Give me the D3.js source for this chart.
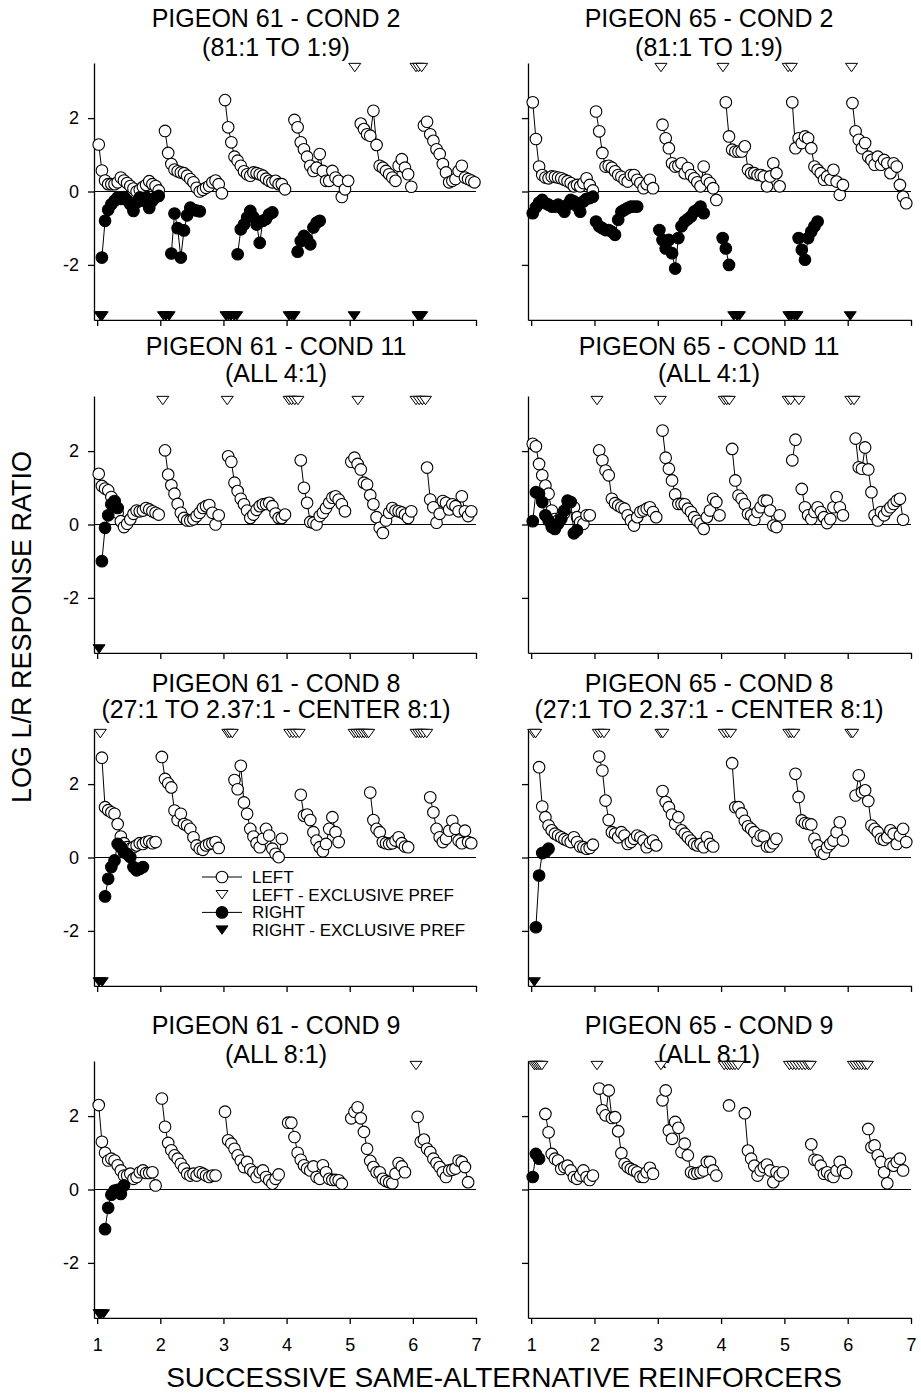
<!DOCTYPE html>
<html>
<head>
<meta charset="utf-8">
<script src="https://cdn.jsdelivr.net/npm/d3@7"></script>
<style>
  body { margin: 0; background: #fff; }
  svg text { font-family: "Liberation Sans", Arial, sans-serif; fill: #000; }
</style>
</head>
<body>
<script>
// tick values
const xTicks = [1, 2, 3, 4, 5, 6, 7];
const yTicks = [-2, 0, 2];

const titles = [
  ["PIGEON 61 - COND 2", "(81:1 TO 1:9)"],
  ["PIGEON 65 - COND 2", "(81:1 TO 1:9)"],
  ["PIGEON 61 - COND 11", "(ALL 4:1)"],
  ["PIGEON 65 - COND 11", "(ALL 4:1)"],
  ["PIGEON 61 - COND 8", "(27:1 TO 2.37:1 - CENTER 8:1)"],
  ["PIGEON 65 - COND 8", "(27:1 TO 2.37:1 - CENTER 8:1)"],
  ["PIGEON 61 - COND 9", "(ALL 8:1)"],
  ["PIGEON 65 - COND 9", "(ALL 8:1)"]
];
const legendLabels = ["LEFT", "LEFT - EXCLUSIVE PREF", "RIGHT", "RIGHT - EXCLUSIVE PREF"];

// log L/R response ratios, one array per successive reinforcer (1..6),
// point i sits at k + 0.025 + 0.05*i ; null = no point
const p61c2Left = [
  [1.28, 0.57, 0.3, 0.2, 0.2, 0.2, 0.25, 0.38, 0.3, 0.23, 0.15, 0.08, 0.0, 0.05, 0.12, 0.18, 0.28, 0.2, 0.15, 0.03],
  [null, 1.65, 1.05, 0.75, 0.6, 0.55, 0.52, 0.5, 0.43, 0.34, 0.25, 0.1, 0.0, 0.05, 0.1, 0.15, 0.25, 0.3, 0.2, -0.05],
  [2.49, 1.75, 1.34, 0.95, 0.84, 0.7, 0.55, 0.47, 0.43, 0.52, 0.5, 0.47, 0.43, 0.35, 0.29, 0.25, 0.29, 0.2, 0.2, 0.06],
  [null, null, 1.95, 1.75, 1.34, 1.15, 0.95, 0.7, 0.56, 0.65, 1.02, 0.56, 0.29, 0.29, 0.56, 0.38, 0.29, -0.15, 0.06, 0.29],
  [null, null, null, 1.85, 1.7, 1.56, 1.52, 2.2, 1.27, 0.7, 0.65, 0.56, 0.47, 0.38, 0.29, 0.7, 0.88, 0.65, 0.47, 0.13],
  [null, null, null, 1.8, 1.9, 1.56, 1.38, 1.15, 1.02, 0.75, 0.52, 0.25, 0.29, 0.34, 0.56, 0.7, 0.38, 0.34, 0.3, 0.25]
];
const p61c2Right = [
  [null, -1.8, -0.8, -0.5, -0.35, -0.25, -0.16, -0.2, -0.15, -0.24, -0.35, -0.53, -0.3, -0.16, -0.25, -0.16, -0.45, -0.25, -0.16, -0.12],
  [null, null, null, -1.69, -0.6, -1.0, -1.8, -1.06, -0.65, -0.44, -0.5, -0.52, -0.54],
  [null, null, null, null, -1.71, -1.03, -0.9, -0.71, -0.53, -0.7, -0.9, -1.4, -0.8, -0.75, -0.62, -0.57],
  [null, null, null, -1.64, -1.35, -1.21, -1.3, -1.44, -0.98, -0.85, -0.8],
  [], []
];
const p61c2LeftExcl = [5.08, 6.05, 6.09, 6.14];
const p61c2RightExcl = [1.05, 1.08, 2.05, 2.09, 2.14, 3.04, 3.08, 3.12, 3.17, 3.21, 4.04, 4.08, 4.12, 5.07, 6.08, 6.11, 6.14];

const p65c2Left = [
  [2.43, 1.43, 0.68, 0.45, 0.38, 0.36, 0.41, 0.4, 0.38, 0.36, 0.32, 0.28, 0.23, 0.14, 0.18, 0.14, 0.23, 0.36, 0.18, 0.03],
  [2.18, 1.64, 1.05, 0.68, 0.7, 0.65, 0.55, 0.45, 0.4, 0.32, 0.27, 0.45, 0.45, 0.32, 0.23, 0.09, 0.2, 0.32, 0.09],
  [null, 1.82, 1.45, 1.18, 0.77, 0.68, 0.7, 0.77, 0.5, 0.64, 0.45, 0.36, 0.25, 0.14, 0.68, 0.32, 0.23, 0.09, -0.23],
  [null, 2.43, 1.5, 1.14, 1.09, 1.09, 1.09, 1.23, 0.59, 0.5, 0.5, 0.45, 0.45, 0.41, 0.14, 0.41, 0.77, 0.5, 0.14],
  [null, null, 2.43, 1.18, 1.45, 1.32, 1.5, 1.45, 1.18, 0.68, 0.59, 0.5, 0.32, 0.41, 0.32, 0.59, 0.27, -0.09, 0.18],
  [null, 2.41, 1.64, 1.41, 1.18, 1.32, 0.95, 0.86, 0.73, 0.95, 0.73, 0.86, 0.77, 0.5, 0.77, 0.68, 0.18, -0.14, -0.32]
];
const p65c2Right = [
  [-0.59, -0.43, -0.3, -0.23, -0.32, -0.36, -0.41, -0.41, -0.36, -0.45, -0.55, -0.36, -0.23, -0.27, -0.4, -0.55, -0.27, -0.2, -0.18, -0.14],
  [-0.82, -0.95, -1.0, -1.05, -1.05, -1.1, -1.18, -0.77, -0.55, -0.5, -0.45, -0.41, -0.41, -0.41],
  [-1.05, -1.32, -1.55, -1.32, -1.68, -2.1, -1.27, -0.95, -0.82, -0.75, -0.68, -0.55, -0.5, -0.41, -0.59],
  [-1.27, -1.55, -2.0],
  [null, null, null, null, -1.27, -1.59, -1.86, -1.27, -1.09, -0.95, -0.82],
  []
];
const p65c2LeftExcl = [3.05, 4.03, 5.06, 5.11, 6.06];
const p65c2RightExcl = [4.2, 4.25, 4.29, 5.07, 5.11, 5.16, 5.2, 6.04];

const p61c11Left = [
  [1.38, 1.05, 0.98, 0.93, 0.75, 0.64, 0.32, 0.09, -0.07, 0.02, 0.14, 0.29, 0.38, 0.36, 0.38, 0.45, 0.41, 0.36, 0.32, 0.27],
  [null, 2.02, 1.36, 1.07, 0.84, 0.56, 0.32, 0.18, 0.11, 0.11, 0.14, 0.23, 0.32, 0.45, 0.5, 0.53, 0.32, 0.0, 0.25],
  [null, 1.86, 1.71, 1.14, 0.91, 0.7, 0.55, 0.38, 0.18, 0.27, 0.4, 0.5, 0.55, 0.56, 0.59, 0.5, 0.3, 0.18, 0.18, 0.27],
  [null, null, null, null, 1.75, 1.0, 0.59, 0.07, 0.05, 0.0, 0.23, 0.32, 0.45, 0.59, 0.73, 0.77, 0.68, 0.55, 0.36],
  [1.71, 1.82, 1.65, 1.5, 1.14, 1.09, 0.8, 0.55, 0.2, -0.09, -0.23, 0.11, 0.32, 0.45, 0.38, 0.36, 0.33, 0.27, 0.18, 0.36],
  [null, null, null, null, 1.55, 0.68, 0.47, 0.05, 0.29, 0.64, 0.59, 0.41, 0.55, 0.5, 0.36, 0.77, 0.36, 0.23, 0.36]
];
const p61c11Right = [[null, -1.0, -0.09, 0.25, 0.55, 0.62, 0.45], [], [], [], [], []];
const p61c11LeftExcl = [2.04, 3.06, 4.04, 4.08, 4.13, 4.18, 5.13, 6.05, 6.1, 6.15, 6.2];
const p61c11RightExcl = [1.03];

const p65c11Left = [
  [2.2, 2.13, 1.65, 1.34, 1.06, 0.84, 0.38, 0.15, 0.11, 0.2, 0.31, 0.47, 0.56, 0.47, 0.2, 0.06, 0.02, 0.25, 0.25],
  [null, 2.02, 1.75, 1.47, 1.34, 0.7, 0.58, 0.52, 0.47, 0.43, 0.25, 0.11, -0.03, 0.2, 0.34, 0.38, 0.43, 0.47, 0.34, 0.2],
  [null, 2.56, 1.82, 1.52, 1.2, 0.82, 0.56, 0.56, 0.55, 0.43, 0.34, 0.2, 0.1, 0.02, -0.12, 0.2, 0.38, 0.7, 0.61, 0.25],
  [null, null, null, 2.06, 1.2, 0.79, 0.7, 0.55, 0.29, 0.25, 0.13, 0.34, 0.47, 0.65, 0.65, 0.38, -0.03, -0.07, 0.25],
  [null, null, 1.75, 2.31, null, 0.97, 0.47, 0.25, 0.15, 0.34, 0.47, 0.34, 0.2, 0.04, 0.15, 0.47, 0.75, 0.47, 0.25],
  [null, null, 2.34, 1.56, 1.52, 2.1, 1.5, 0.88, 0.25, 0.11, 0.34, 0.25, 0.38, 0.47, 0.56, 0.65, 0.7, 0.13]
];
const p65c11Right = [[0.09, 0.88, 0.84, 0.61, 0.25, 0.11, -0.07, -0.12, 0.02, 0.15, 0.38, 0.65, 0.61, -0.24, -0.16], [], [], [], [], []];
const p65c11LeftExcl = [2.04, 3.04, 4.05, 4.09, 4.13, 5.06, 5.1, 5.23, 6.05, 6.1];
const p65c11RightExcl = [];

const p61c8Left = [
  [null, 2.72, 1.37, 1.29, 1.23, 1.19, 0.91, 0.57, 0.39, 0.28, 0.24, 0.28, 0.33, 0.39, 0.37, 0.42, 0.44, 0.39, 0.42],
  [2.74, 2.14, 2.02, 1.91, 1.28, 1.02, 1.19, 0.91, 0.87, 0.78, 0.55, 0.33, 0.24, 0.21, 0.33, 0.37, 0.39, 0.42, 0.26],
  [null, null, null, 2.11, 1.86, 2.5, 1.5, 1.19, 0.78, 0.57, 0.39, 0.28, 0.51, 0.78, 0.6, 0.24, 0.1, 0.01, 0.51],
  [null, null, null, null, 1.71, 1.14, 1.17, 1.02, 0.69, 0.46, 0.28, 0.17, 0.37, 0.78, 1.1, 0.69, 0.42],
  [null, null, null, null, null, null, 1.77, 1.02, 0.78, 0.69, 0.42, 0.39, 0.37, 0.39, 0.46, 0.55, 0.39, 0.3, 0.28],
  [null, null, null, null, null, 1.64, 1.23, 0.78, 0.55, 0.42, 0.51, 0.73, 1.0, 0.78, 0.46, 0.39, 0.73, 0.42, 0.39]
];
const p61c8Right = [[null, null, -1.06, -0.58, -0.26, -0.08, 0.37, 0.28, 0.14, 0.1, 0.01, -0.26, -0.35, -0.31, -0.26], [], [], [], [], []];
const p61c8LeftExcl = [1.05, 3.07, 3.1, 3.14, 4.05, 4.1, 4.15, 4.2, 5.07, 5.11, 5.15, 5.19, 5.23, 5.27, 5.3, 6.05, 6.09, 6.13, 6.17, 6.22];
const p61c8RightExcl = [1.03, 1.08];

const p65c8Left = [
  [null, null, 2.46, 1.39, 1.1, 0.87, 0.74, 0.65, 0.6, 0.55, 0.5, 0.46, 0.42, 0.55, 0.42, 0.3, 0.28, 0.24, 0.26, 0.35],
  [null, 2.75, 2.37, 1.55, 1.02, 0.69, 0.65, 0.55, 0.69, 0.6, 0.37, 0.42, 0.51, 0.6, 0.55, 0.46, 0.28, 0.4, 0.46, 0.33],
  [null, 1.81, 1.51, 1.37, 1.17, 0.92, 1.1, 0.74, 0.65, 0.55, 0.46, 0.37, 0.33, 0.37, 0.28, 0.55, 0.37, 0.3],
  [null, null, null, 2.57, 1.37, 1.37, 1.2, 1.0, 0.85, 0.78, 0.69, 0.46, 0.6, 0.57, 0.3, 0.3, 0.39, 0.51],
  [null, null, null, 2.28, 1.65, 1.01, 0.94, 0.92, 0.9, 0.51, 0.33, 0.15, 0.1, 0.28, 0.37, 0.46, 0.69, 0.96, 0.46],
  [null, null, 1.69, 2.24, 1.78, 1.83, 1.54, 0.87, 0.78, 0.69, 0.51, 0.48, 0.55, 0.74, 0.65, 0.37, 0.6, 0.78, 0.42]
];
const p65c8Right = [[null, -1.9, -0.49, 0.12, 0.15, 0.24], [], [], [], [], []];
const p65c8LeftExcl = [1.04, 1.07, 2.06, 2.1, 2.15, 3.05, 3.08, 4.05, 4.1, 4.15, 5.07, 5.11, 5.15, 6.05, 6.08];
const p65c8RightExcl = [1.05];

const p61c9Left = [
  [2.3, 1.3, 1.0, 0.79, 0.84, 0.79, 0.66, 0.52, 0.38, 0.38, 0.43, 0.29, 0.34, 0.47, 0.52, 0.45, 0.45, 0.47, 0.11],
  [2.48, 1.71, 1.27, 1.07, 0.93, 0.84, 0.7, 0.57, 0.43, 0.38, 0.43, 0.38, 0.47, 0.43, 0.38, 0.34, 0.38, 0.38],
  [2.12, 1.34, 1.25, 1.11, 0.93, 0.79, 0.61, 0.75, 0.55, 0.47, 0.34, 0.47, 0.52, 0.34, 0.25, 0.16, 0.29, 0.41],
  [1.82, 1.82, 1.43, 1.0, 0.81, 0.66, 0.57, 0.52, 0.63, 0.34, 0.29, 0.66, 0.47, 0.29, 0.26, 0.26, 0.25, 0.16],
  [1.94, 2.12, 2.24, 1.94, 1.57, 1.11, 0.78, 0.61, 0.47, 0.47, 0.29, 0.23, 0.2, 0.17, 0.43, 0.72, 0.63, 0.47],
  [null, 1.98, 1.3, 1.36, 1.11, 1.02, 0.84, 0.72, 0.61, 0.47, 0.34, 0.52, 0.54, 0.57, 0.79, 0.75, 0.61, 0.2]
];
const p61c9Right = [[null, null, -1.08, -0.5, -0.14, -0.03, -0.01, -0.12, 0.11], [], [], [], [], []];
const p61c9LeftExcl = [6.05];
const p61c9RightExcl = [1.03, 1.06, 1.1];

const p65c9Left = [
  [null, null, null, null, 2.06, 1.56, 0.97, 0.84, 0.79, 0.56, 0.61, 0.65, 0.52, 0.34, 0.29, 0.38, 0.52, 0.34, 0.26, 0.38],
  [null, 2.75, 2.16, 2.02, 2.7, 1.95, 1.97, 1.59, 0.99, 0.7, 0.61, 0.56, 0.52, 0.47, 0.35, 0.34, 0.47, 0.59, 0.43],
  [null, 2.43, 2.7, 1.61, 1.38, 1.84, 1.68, 1.02, 1.25, 0.93, 0.47, 0.43, 0.45, 0.47, 0.52, 0.75, 0.75, 0.52, 0.38],
  [null, null, 2.29, null, null, null, null, 2.08, 1.06, 0.84, 0.65, 0.38, 0.52, 0.61, 0.68, 0.52, 0.2, 0.47, 0.38, 0.47],
  [null, null, null, null, null, null, null, null, 1.23, 0.81, 0.79, 0.65, 0.43, 0.47, 0.38, 0.34, 0.52, 0.75, 0.52, 0.45],
  [null, null, null, null, null, null, 1.65, 1.15, 1.2, 0.93, 0.75, 0.47, 0.17, 0.7, 0.65, 0.75, 0.84, 0.52]
];
const p65c9Right = [[0.34, 0.97, 0.84], [], [], [], [], []];
const p65c9LeftExcl = [1.05, 1.08, 1.11, 1.14, 1.17, 2.04, 3.05, 4.05, 4.1, 4.14, 4.18, 4.22, 4.27,
  5.08, 5.13, 5.18, 5.23, 5.28, 5.33, 5.38, 5.41, 6.09, 6.13, 6.18, 6.22, 6.27, 6.31];
const p65c9RightExcl = [];

const panels = [
  { left: p61c2Left, right: p61c2Right, lx: p61c2LeftExcl, rx: p61c2RightExcl },
  { left: p65c2Left, right: p65c2Right, lx: p65c2LeftExcl, rx: p65c2RightExcl },
  { left: p61c11Left, right: p61c11Right, lx: p61c11LeftExcl, rx: p61c11RightExcl },
  { left: p65c11Left, right: p65c11Right, lx: p65c11LeftExcl, rx: p65c11RightExcl },
  { left: p61c8Left, right: p61c8Right, lx: p61c8LeftExcl, rx: p61c8RightExcl },
  { left: p65c8Left, right: p65c8Right, lx: p65c8LeftExcl, rx: p65c8RightExcl },
  { left: p61c9Left, right: p61c9Right, lx: p61c9LeftExcl, rx: p61c9RightExcl },
  { left: p65c9Left, right: p65c9Right, lx: p65c9LeftExcl, rx: p65c9RightExcl }
];

// layout
const colRange = [[94, 476], [528, 911]];
const rowZero = [191.5, 524.5, 857.5, 1189.5];
const unit = 36.7;
const titleBase = [[27, 56], [355, 382], [692, 718], [1034, 1063]];
const titleX = [276, 709];
const tri = "M-6,-4.2L6,-4.2L0,4.2Z";

const svg = d3.select("body").append("svg")
  .attr("width", 921)
  .attr("height", 1393);

function toPoints(arr, k) {
  return arr.map((v, i) => ({ x: k + 0.025 + 0.05 * i, v: v }));
}

panels.forEach(function (p, n) {
  const row = Math.floor(n / 2), col = n % 2;
  const x = d3.scaleLinear().domain([0.95, 7]).range(colRange[col]);
  const y = d3.scaleLinear().domain([-3.5, 3.5])
    .range([rowZero[row] + 3.5 * unit, rowZero[row] - 3.5 * unit]);
  const g = svg.append("g");

  // titles
  titles[n].forEach(function (t, j) {
    g.append("text")
      .attr("x", titleX[col])
      .attr("y", titleBase[row][j])
      .attr("text-anchor", "middle")
      .attr("font-size", 25)
      .text(t);
  });

  // axes
  const ya = g.append("g")
    .attr("transform", "translate(" + x(0.95) + ",0)")
    .call(d3.axisLeft(y).tickValues(yTicks).tickSize(6).tickSizeOuter(0).tickPadding(9)
      .tickFormat(col === 0 ? (d => String(d)) : (() => "")));
  const xa = g.append("g")
    .attr("transform", "translate(0," + y(-3.5) + ")")
    .call(d3.axisBottom(x).tickValues(xTicks).tickSize(6).tickSizeOuter(0).tickPadding(14)
      .tickFormat(row === 3 ? (d => String(d)) : (() => "")));
  [ya, xa].forEach(a => {
    a.attr("font-size", 18).attr("font-family", "Liberation Sans, Arial, sans-serif");
    a.selectAll("path, line").attr("stroke", "#000").attr("stroke-width", 1.3);
  });

  // zero line
  g.append("line")
    .attr("x1", x(0.95)).attr("x2", x(7))
    .attr("y1", y(0)).attr("y2", y(0))
    .attr("stroke", "#000").attr("stroke-width", 1);

  const line = d3.line()
    .defined(d => d.v != null)
    .x(d => x(d.x))
    .y(d => y(d.v));

  function drawSeries(groups, fill) {
    groups.forEach(function (arr, gi) {
      const pts = toPoints(arr, gi + 1);
      g.append("path")
        .datum(pts)
        .attr("d", line)
        .attr("fill", "none")
        .attr("stroke", "#000")
        .attr("stroke-width", 1);
      g.selectAll(null)
        .data(pts.filter(d => d.v != null))
        .enter().append("circle")
        .attr("cx", d => x(d.x))
        .attr("cy", d => y(d.v))
        .attr("r", 5.8)
        .attr("fill", fill)
        .attr("stroke", "#000")
        .attr("stroke-width", 1.1);
    });
  }
  drawSeries(p.left, "#fff");
  drawSeries(p.right, "#000");

  // exclusive preference markers
  g.selectAll(null)
    .data(p.lx)
    .enter().append("path")
    .attr("d", tri)
    .attr("transform", d => "translate(" + x(d) + "," + (y(3.5) + 4.5) + ")")
    .attr("fill", "#fff")
    .attr("stroke", "#000")
    .attr("stroke-width", 1);
  g.selectAll(null)
    .data(p.rx)
    .enter().append("path")
    .attr("d", tri)
    .attr("transform", d => "translate(" + x(d) + "," + (y(-3.5) - 4) + ")")
    .attr("fill", "#000")
    .attr("stroke", "#000")
    .attr("stroke-width", 1);

  // legend in the P61 COND 8 panel
  if (n === 4) {
    const lg = g.append("g");
    legendLabels.forEach(function (lab, j) {
      const cy = 877 + j * 17.7;
      if (j % 2 === 0) {
        lg.append("line")
          .attr("x1", 202).attr("x2", 242)
          .attr("y1", cy).attr("y2", cy)
          .attr("stroke", "#000").attr("stroke-width", 1);
        lg.append("circle")
          .attr("cx", 222).attr("cy", cy).attr("r", 5.8)
          .attr("fill", j === 0 ? "#fff" : "#000")
          .attr("stroke", "#000").attr("stroke-width", 1.1);
      } else {
        lg.append("path")
          .attr("d", tri)
          .attr("transform", "translate(222," + cy + ")")
          .attr("fill", j === 1 ? "#fff" : "#000")
          .attr("stroke", "#000").attr("stroke-width", 1);
      }
      lg.append("text")
        .attr("x", 252)
        .attr("y", cy + 6)
        .attr("font-size", 17)
        .text(lab);
    });
  }
});

// axis titles
svg.append("text")
  .attr("transform", "translate(31,627) rotate(-90)")
  .attr("text-anchor", "middle")
  .attr("font-size", 27)
  .text("LOG L/R RESPONSE RATIO");

svg.append("text")
  .attr("x", 504)
  .attr("y", 1387)
  .attr("text-anchor", "middle")
  .attr("font-size", 28)
  .text("SUCCESSIVE SAME-ALTERNATIVE REINFORCERS");
</script>
</body>
</html>
